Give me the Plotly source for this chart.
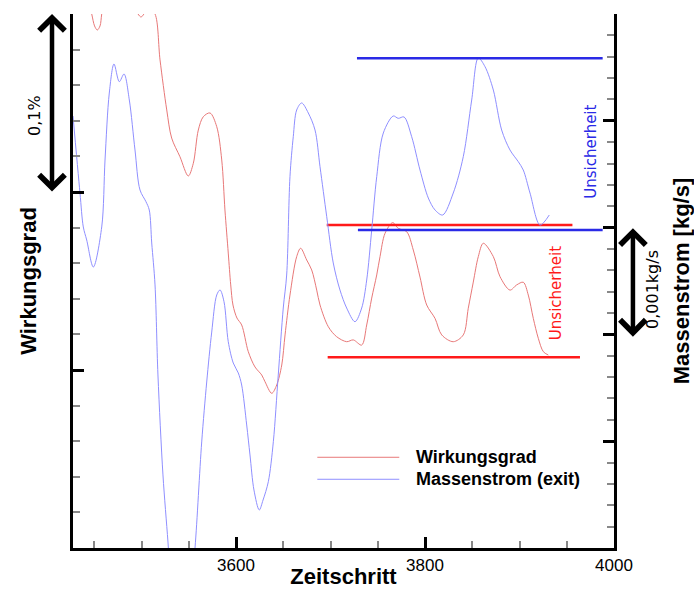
import plotly.graph_objects as go

# ---------------- data ----------------
# Wirkungsgrad (efficiency), relative values in %
t_eta = [3428, 3435, 3443.4, 3447.3, 3450.3, 3453.2, 3456.1, 3457.9, 3462.4, 3466.7,
         3482.5, 3496.3, 3499.5, 3502.6, 3507.9, 3514.3, 3519.6, 3526.7, 3531.9, 3540.7,
         3549.5, 3554.8, 3560.1, 3565.4, 3572.5, 3579.6, 3584.9, 3588.3, 3591.8, 3594.4,
         3596.8, 3601, 3606, 3613, 3620.1, 3627.2, 3630.7, 3637.8, 3643.1, 3648.4,
         3651.9, 3657.1, 3664.2, 3668.4, 3674.8, 3680.1, 3685.4, 3688.9, 3697.7, 3706.5,
         3717.1, 3724.1, 3733, 3738.3, 3743.6, 3748.9, 3752.4, 3757.7, 3765.8, 3771.7,
         3780.6, 3787.6, 3794.7, 3801.8, 3810.6, 3817.7, 3829.9, 3840.5, 3845.8, 3851.1,
         3856.4, 3861.7, 3872.3, 3879.4, 3889.9, 3897, 3904, 3909.3, 3914.6, 3919.9,
         3925.2, 3930.5]
eta = [0.3350, 0.3250, 0.3079, 0.3000, 0.2933, 0.2910, 0.2933, 0.3000, 0.3135, 0.3191,
       0.3135, 0.3000, 0.2983, 0.3000, 0.3034, 0.3000, 0.2742, 0.2461, 0.2303, 0.2198,
       0.2090, 0.2161, 0.2348, 0.2423, 0.2444, 0.2367, 0.2180, 0.1899, 0.1657, 0.1478,
       0.1365, 0.1292, 0.1253, 0.1103, 0.1017, 0.0972, 0.0934, 0.0869, 0.0916, 0.1028,
       0.1197, 0.1421, 0.1637, 0.1684, 0.1618, 0.1562, 0.1449, 0.1365, 0.1243, 0.1187,
       0.1159, 0.1169, 0.1140, 0.1253, 0.1404, 0.1534, 0.1637, 0.1768, 0.1828, 0.1796,
       0.1777, 0.1674, 0.1522, 0.1365, 0.1290, 0.1197, 0.1159, 0.1197, 0.1347, 0.1494,
       0.1637, 0.1712, 0.1637, 0.1524, 0.1449, 0.1478, 0.1493, 0.1421, 0.1290, 0.1178,
       0.1103, 0.1084]

# Massenstrom (exit), relative values in kg/s
t_mdot = [3427.5, 3434.9, 3438.4, 3442, 3449, 3457.9, 3461.4, 3465.9, 3470.9, 3476.5,
          3481.5, 3487.1, 3493.1, 3498.4, 3504.7, 3508.2, 3510.8, 3514.3, 3517.4, 3522.7,
          3528, 3532.3, 3541.8, 3551.3, 3556.6, 3563.7, 3569, 3574.3, 3579.6, 3583.1,
          3587.3, 3591.8, 3597.1, 3602.4, 3606, 3611.3, 3614.8, 3619, 3624.6, 3628.6,
          3634.2, 3639.5, 3644.7, 3650, 3653.6, 3657.1, 3660.6, 3664.2, 3669.5, 3676.5,
          3683.6, 3688.9, 3696, 3702.9, 3710, 3717.1, 3725.9, 3733, 3738.3, 3743.6,
          3748.9, 3755.9, 3766.4, 3771.7, 3777.8, 3785.9, 3794.7, 3803.5, 3810.6, 3818.7,
          3829.9, 3840.5, 3849.4, 3856.4, 3863.5, 3872.3, 3881.1, 3889.9, 3898.7, 3904,
          3911.1, 3921.7, 3931.5]
mdot = [0.004045, 0.003324, 0.003006, 0.002884, 0.002631, 0.003006, 0.003633, 0.004260, 0.004532, 0.004366,
        0.004438, 0.004195, 0.003727, 0.003352, 0.003243, 0.003165, 0.002856, 0.002463, 0.001620, 0.000684,
        0.000056, -0.000487, -0.000955, -0.000487, 0.000000, 0.000993, 0.001554, 0.002022, 0.002369, 0.002416,
        0.002306, 0.001932, 0.001732, 0.001639, 0.001526, 0.001152, 0.000871, 0.000543, 0.000356, 0.000449,
        0.000621, 0.000995, 0.001620, 0.002247, 0.002556, 0.003477, 0.003851, 0.004101, 0.004167, 0.004073,
        0.003914, 0.003570, 0.003102, 0.002669, 0.002416, 0.002247, 0.002119, 0.002247, 0.002509, 0.002978,
        0.003477, 0.003886, 0.004045, 0.004023, 0.004036, 0.003851, 0.003539, 0.003277, 0.003165, 0.003118,
        0.003324, 0.003664, 0.004195, 0.004588, 0.004507, 0.004288, 0.003914, 0.003727, 0.003617, 0.003539,
        0.003324, 0.003024, 0.003118]

# Uncertainty bands (Unsicherheit)
unc_eta_levels = [0.1815, 0.1071]
unc_eta_t = [[3696, 3956], [3697, 3964]]
unc_mdot_levels = [0.004585, 0.002978]
unc_mdot_t = [[3728, 3988], [3729, 3988]]

x_ticks = [3600, 3800, 4000]

# ---------------- figure ----------------
RED = "#e87878"
BLUE = "#8f8fff"
RED_U = "#ff1a1a"
BLUE_U = "#2a2ae6"
SANS = "Liberation Sans, Arial, sans-serif"
DJV = "DejaVu Sans, sans-serif"

fig = go.Figure()
fig.add_trace(go.Scatter(x=t_eta, y=eta, mode="lines", name="Wirkungsgrad",
                         line=dict(color=RED, width=1, shape="spline", smoothing=0.9),
                         showlegend=False, yaxis="y"))
fig.add_trace(go.Scatter(x=t_mdot, y=mdot, mode="lines", name="Massenstrom (exit)",
                         line=dict(color=BLUE, width=1, shape="spline", smoothing=0.9),
                         showlegend=False, yaxis="y2"))
for lvl, tt in zip(unc_eta_levels, unc_eta_t):
    fig.add_trace(go.Scatter(x=tt, y=[lvl, lvl], mode="lines", yaxis="y",
                             line=dict(color=RED_U, width=2.5), showlegend=False,
                             hoverinfo="skip"))
for lvl, tt in zip(unc_mdot_levels, unc_mdot_t):
    fig.add_trace(go.Scatter(x=tt, y=[lvl, lvl], mode="lines", yaxis="y2",
                             line=dict(color=BLUE_U, width=2.5), showlegend=False,
                             hoverinfo="skip"))

tickcommon = dict(ticks="inside", ticklen=11, tickwidth=2.5, tickcolor="black",
                  showline=True, linecolor="black", linewidth=3,
                  showgrid=False, zeroline=False, automargin=False)
minorcommon = dict(ticks="inside", ticklen=7, tickwidth=1.5, tickcolor="#888888", showgrid=False)

fig.update_layout(
    width=694, height=589,
    margin=dict(l=73, r=80, t=14, b=41, autoexpand=False),
    paper_bgcolor="white", plot_bgcolor="white",
    showlegend=False,
    xaxis=dict(range=[3427.5, 4000], tickvals=x_ticks, ticktext=[str(v) for v in x_ticks],
               tickfont=dict(family=SANS, size=17, color="black"),
               title=dict(text="Zeitschritt", font=dict(family=SANS, size=22, color="black", weight="bold"),
                          standoff=3),
               minor=dict(dtick=50, tick0=0, **minorcommon), **tickcommon),
    yaxis=dict(range=[0, 0.3], tick0=0, dtick=0.1, showticklabels=False,
               title=dict(text="Wirkungsgrad", font=dict(family=SANS, size=22, color="black", weight="bold"),
                          standoff=28),
               minor=dict(dtick=0.02, tick0=0, **minorcommon), **tickcommon),
    yaxis2=dict(range=[0, 0.005], tick0=0, dtick=0.001, showticklabels=False,
                overlaying="y", side="right",
                title=dict(text="Massenstrom [kg/s]", font=dict(family=SANS, size=22, color="black", weight="bold"),
                           standoff=58),
                minor=dict(dtick=0.0002, tick0=0, **minorcommon), **tickcommon),
)

# manual legend
leg = [("Wirkungsgrad", RED, 0.1699), ("Massenstrom (exit)", BLUE, 0.1287)]
for txt, col, yy in leg:
    fig.add_shape(type="line", xref="paper", yref="paper", x0=0.4516, x1=0.6031, y0=yy, y1=yy,
                  line=dict(color=col, width=1))
    fig.add_annotation(xref="paper", yref="paper", x=0.6303, y=yy, xanchor="left", yanchor="middle",
                       text=txt, showarrow=False,
                       font=dict(family=SANS, size=18, color="black", weight="bold"))

# scale arrows
fig.add_annotation(xref="paper", yref="paper", x=-0.0388, y=1.0, ax=0, ay=179, text="",
                   showarrow=True, arrowhead=4, startarrowhead=4, arrowside="end+start",
                   arrowwidth=4.5, arrowsize=1.1, startarrowsize=1.1, arrowcolor="black",
                   standoff=0, startstandoff=0)
fig.add_annotation(xref="paper", yref="paper", x=1.035, y=0.599, ax=0, ay=110, text="",
                   showarrow=True, arrowhead=4, startarrowhead=4, arrowside="end+start",
                   arrowwidth=4.5, arrowsize=1.1, startarrowsize=1.1, arrowcolor="black",
                   standoff=0, startstandoff=0)

rot = dict(textangle=-90, showarrow=False, xanchor="center", yanchor="middle",
           xref="paper", yref="paper")
fig.add_annotation(x=-0.0702, y=0.809, text="0,1%",
                   font=dict(family=DJV, size=16, color="black"), **rot)
fig.add_annotation(x=1.0702, y=0.485, text="0,001kg/s",
                   font=dict(family=DJV, size=16, color="black"), **rot)
fig.add_annotation(x=0.957, y=0.7416, text="Unsicherheit",
                   font=dict(family=DJV, size=15, color=BLUE_U), **rot)
fig.add_annotation(x=0.893, y=0.4775, text="Unsicherheit",
                   font=dict(family=DJV, size=15, color=RED_U), **rot)

fig.write_html("out.html")
